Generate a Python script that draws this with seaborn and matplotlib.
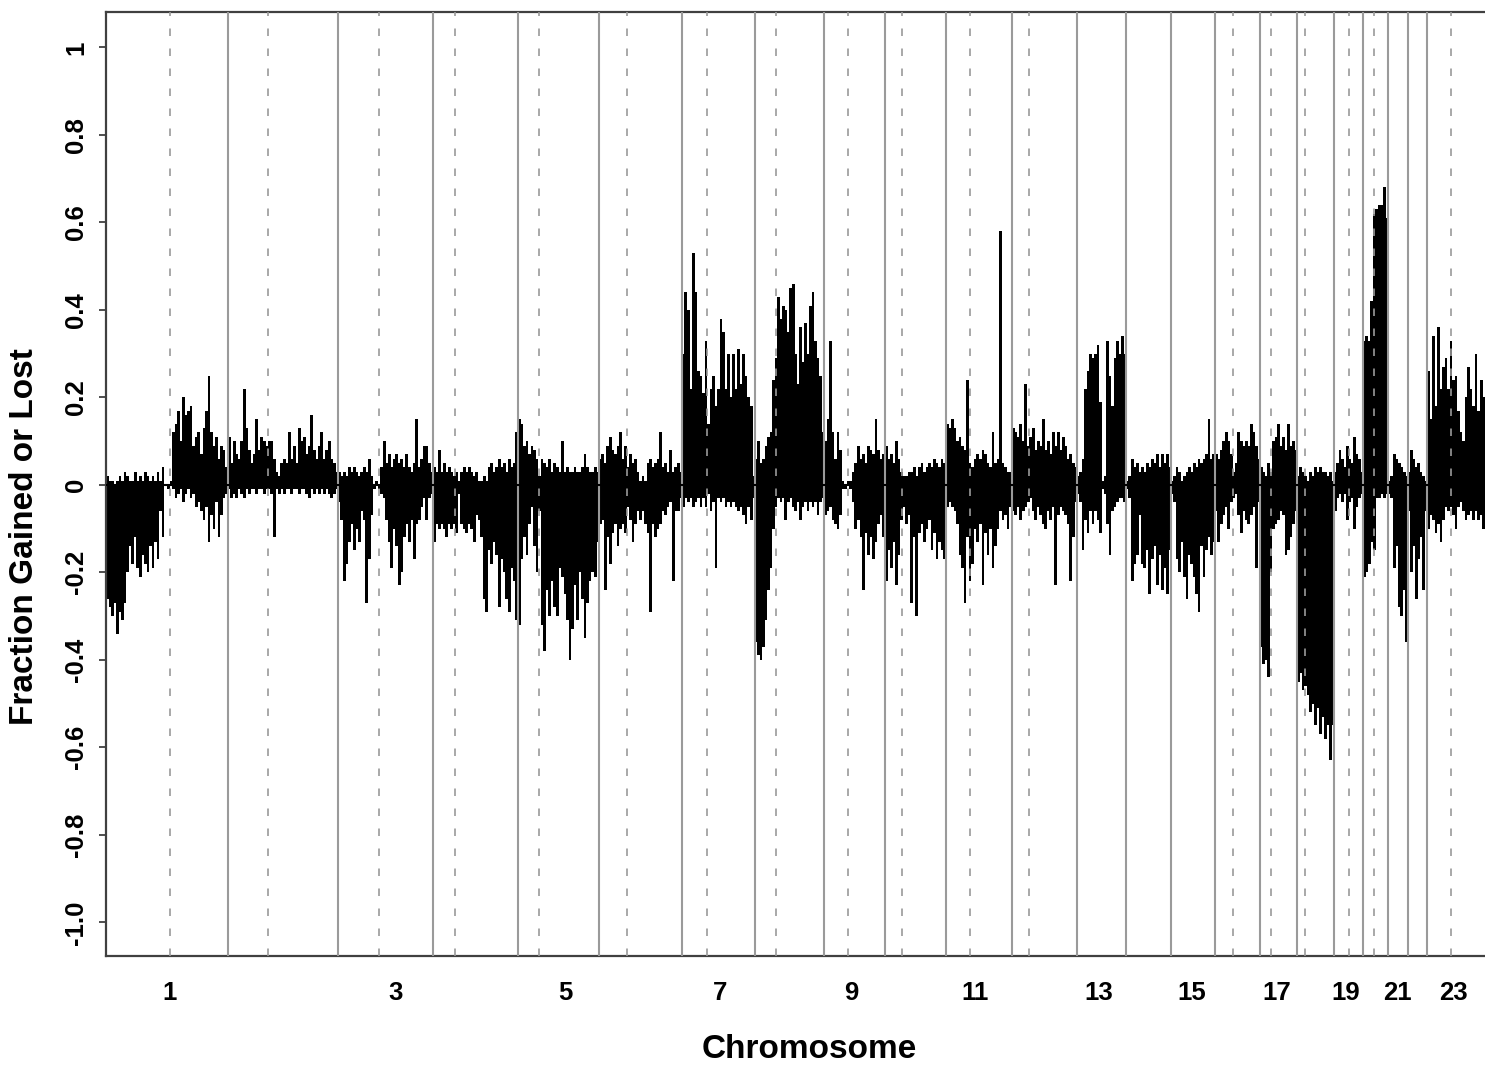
import numpy as np
import pandas as pd
import matplotlib
matplotlib.use("Agg")
import matplotlib.pyplot as plt
import seaborn as sns

# ---------------- data ----------------
chrom_size = [122, 110, 95, 85, 81, 83, 73, 69, 61, 61, 66, 65, 49, 45, 44, 45, 37, 37, 29, 25, 20, 19, 58]
centromere = [64, 40, 41, 22, 21, 28, 25, 21, 24, 17, 24, 17, None, None, None, 18, 11, 8, 15, 11, None, None, 24]
tick_labels = ["1", "3", "5", "7", "9", "11", "13", "15", "17", "19", "21", "23"]
tick_pos = [64, 290, 459, 614, 745, 869, 993, 1086, 1171, 1240, 1291, 1347]
ytick_vals = [-1.0, -0.8, -0.6, -0.4, -0.2, 0.0, 0.2, 0.4, 0.6, 0.8, 1.0]
ytick_labels = ["-1.0", "-0.8", "-0.6", "-0.4", "-0.2", "0", "0.2", "0.4", "0.6", "0.8", "1"]

# fraction gained (g) / lost (l) per chromosome, in hundredths
g01 = [2,1,1,0,1,2,1,3,2,1,1,3,1,2,1,3,2,1,2,1,3,1,4,0,0,1,12,14,17,10,20,16,17,18,9,11,12,7,13,17,25,12,9,11,6,9,8,4]
l01 = [26,28,30,27,34,29,31,27,20,14,18,12,19,21,16,18,20,14,19,13,17,6,12,0,1,0,1,3,2,1,4,2,1,3,2,5,4,6,8,5,13,7,10,4,12,7,3,2]
g02 = [11,5,10,7,6,10,22,13,8,5,7,15,8,11,10,9,10,10,6,3,2,5,6,5,12,6,9,5,13,10,11,7,9,16,8,6,9,12,6,8,10,6,5,3]
l02 = [1,3,2,3,1,2,3,1,2,1,1,2,1,1,2,1,1,2,12,1,2,1,2,1,1,2,1,1,2,1,1,2,3,1,2,1,2,1,2,1,2,3,2,1]
g03 = [3,2,3,2,4,3,4,3,2,3,4,3,6,2,0,1,0,4,10,5,7,4,6,7,5,6,4,7,4,3,5,15,4,6,9,9,5,3]
l03 = [4,8,22,18,13,9,15,10,13,6,8,27,17,7,1,0,1,2,3,8,13,19,10,14,23,20,12,9,13,8,17,9,8,5,3,8,3,2]
g04 = [4,3,8,3,5,3,4,3,2,3,1,3,4,3,4,3,2,3,1,1,2,1,4,5,3,4,6,4,5,3,6,4,5,12]
l04 = [13,9,10,9,10,12,9,10,9,11,2,9,10,11,9,10,13,7,8,12,26,29,15,18,13,16,28,17,20,26,29,19,22,31]
g05 = [15,14,9,10,7,9,8,6,2,6,5,4,6,3,5,4,3,10,3,4,3,3,4,3,3,4,7,4,3,3,4,3]
l05 = [32,17,12,16,9,5,14,20,6,32,38,24,30,22,28,30,19,21,25,31,40,33,23,31,20,26,35,27,22,20,21,13]
g06 = [6,7,5,9,11,8,7,9,12,6,9,4,7,5,6,3,1,2,1,5,6,4,5,6,12,4,5,3,8,3,4,5,3]
l06 = [9,8,24,12,18,11,9,14,10,9,11,5,8,13,9,6,8,6,9,11,29,9,12,10,9,6,7,5,4,22,6,6,3]
g07 = [30,44,40,22,53,44,26,25,21,33,14,22,25,18,22,38,35,22,30,20,30,22,31,23,30,25,20,18,2]
l07 = [5,3,4,3,5,4,3,5,3,5,2,6,4,19,3,4,3,5,4,5,4,5,6,5,7,9,5,8,3]
g08 = [6,10,5,6,9,11,12,24,29,43,38,41,40,35,45,46,30,23,36,28,37,30,41,44,33,29,25,12]
l08 = [36,39,40,37,31,24,19,10,5,3,4,3,8,4,3,5,6,4,8,5,4,6,4,5,4,7,4,3]
g09 = [10,15,33,12,6,12,8,1,0,1,1,3,5,9,6,7,5,9,8,7,15,8,6,7]
l09 = [7,6,5,8,9,10,7,1,1,0,1,4,10,8,12,24,11,16,12,17,13,9,7,12]
g10 = [9,6,7,5,10,6,3,2,2,3,3,4,2,4,5,3,4,5,4,6,5,4,6,5]
l10 = [22,15,19,13,23,16,8,5,9,7,27,12,30,11,9,13,10,8,15,11,17,13,15,17]
g11 = [14,13,15,13,10,11,9,8,24,5,4,6,7,6,8,7,5,4,12,5,6,58,5,4,3,3]
l11 = [5,4,5,6,9,16,19,27,12,22,18,10,13,9,23,11,16,10,19,14,10,6,8,7,10,5]
g12 = [13,12,11,14,10,23,9,11,13,8,10,9,15,8,10,7,12,9,12,8,11,9,6,7,5,4]
l12 = [6,7,5,8,6,5,4,3,6,8,5,7,9,10,6,8,5,23,7,5,6,7,9,22,12,4]
g13 = [2,3,6,22,26,30,29,30,32,19,1,2,33,25,18,29,33,30,34,30]
l13 = [2,4,15,8,11,6,9,6,8,11,1,2,9,16,6,5,4,3,3,4]
g14 = [1,2,6,4,5,3,4,3,5,4,6,5,7,4,7,5,7,4]
l14 = [1,3,22,18,16,7,18,19,15,25,17,14,23,16,24,19,25,15]
g15 = [1,2,4,3,1,2,3,4,3,5,4,6,5,6,7,15,6,7]
l15 = [2,4,17,20,13,21,26,16,18,21,25,29,14,21,15,12,16,13]
g16 = [7,6,8,10,12,10,7,3,5,12,10,9,10,9,14,12,9,6]
l16 = [6,13,9,7,5,10,4,3,2,7,11,6,8,9,7,5,19,4]
g17 = [4,3,2,5,3,10,11,14,9,11,8,14,9,10,8]
l17 = [37,41,40,44,20,10,9,8,6,7,16,15,12,9,6]
g18 = [2,4,3,2,1,3,2,4,3,4,3,3,2,3,1]
l18 = [45,43,47,46,48,52,50,55,51,57,53,58,55,63,55]
g19 = [3,5,8,6,4,9,6,5,11,7,6,3]
l19 = [6,3,2,4,2,8,4,3,10,5,3,2]
g20 = [33,34,33,42,62,63,64,64,68,61]
l20 = [21,20,18,13,15,3,3,2,3,2]
g21 = [1,2,7,6,5,4,3,2]
l21 = [2,3,19,14,28,30,24,36]
g22 = [3,8,6,4,5,3,2,1]
l22 = [6,20,14,26,17,12,24,6]
g23 = [26,15,34,18,36,22,27,29,22,33,24,25,17,12,10,20,27,22,18,30,17,24,20]
l23 = [10,7,8,11,9,13,8,5,6,5,7,10,5,4,6,8,7,6,8,6,8,7,10]

gains = [g01,g02,g03,g04,g05,g06,g07,g08,g09,g10,g11,g12,g13,g14,g15,g16,g17,g18,g19,g20,g21,g22,g23]
losses = [l01,l02,l03,l04,l05,l06,l07,l08,l09,l10,l11,l12,l13,l14,l15,l16,l17,l18,l19,l20,l21,l22,l23]

# ---------------- build table ----------------
ends = np.cumsum(chrom_size)
starts = ends - np.array(chrom_size)
rows = []
for s, size, g, l in zip(starts, chrom_size, gains, losses):
    n = len(g)
    step = size / n
    for i, (gv, lv) in enumerate(zip(g, l)):
        rows.append((s + (i + 0.5) * step, gv / 100.0, -lv / 100.0))
df = pd.DataFrame(rows, columns=["pos", "gain", "loss"])

# ---------------- plot ----------------
sns.set_style("ticks")
plt.rcParams["font.family"] = ["Liberation Sans", "DejaVu Sans"]
plt.rcParams["font.weight"] = "bold"
plt.rcParams["text.color"] = "black"
plt.rcParams["axes.labelcolor"] = "black"

W, H = 1485, 1068
fig = plt.figure(figsize=(W / 100, H / 100), dpi=100)
ax = fig.add_axes([106 / W, 1 - 956 / H, 1379 / W, 944 / H])

for col in ["gain", "loss"]:
    sns.barplot(data=df, x="pos", y=col, native_scale=True, color="black",
                saturation=1, errorbar=None, width=1.1, linewidth=0, ax=ax)

grey = "#9a9a9a"
for b in ends[:-1]:
    ax.axvline(b, color=grey, lw=1.5, zorder=3)
for s, cen in zip(starts, centromere):
    if cen is not None:
        ax.axvline(s + cen, color=grey, lw=1.2, ls=(0, (4.5, 7.5)), zorder=3)
ax.axhline(0, color="black", lw=1.5, zorder=4)

ax.set_xlim(0, ends[-1])
ax.set_ylim(-1.077, 1.081)

ax.set_xticks(tick_pos)
ax.set_xticklabels(tick_labels, fontsize=18.5, fontweight="bold", color="black")
ax.set_yticks(ytick_vals)
ax.set_yticklabels(ytick_labels, rotation=90, va="center", fontsize=18.5,
                   fontweight="bold", color="black")
ax.tick_params(axis="x", length=0, pad=18, labelcolor="black")
ax.tick_params(axis="y", length=5, width=1.3, color="#404040", pad=8, labelcolor="black")

for side in ["top", "left", "bottom"]:
    ax.spines[side].set_visible(True)
    ax.spines[side].set_color("#404040")
    ax.spines[side].set_linewidth(1.6)
ax.spines["right"].set_visible(False)

ax.set_xlabel("Chromosome", fontsize=24, fontweight="bold", color="black")
ax.set_ylabel("Fraction Gained or Lost", fontsize=24, fontweight="bold", color="black")
ax.xaxis.set_label_coords(0.51, -0.083)
ax.yaxis.set_label_coords(-0.048, 0.444)

fig.savefig("out.png", dpi=100)
